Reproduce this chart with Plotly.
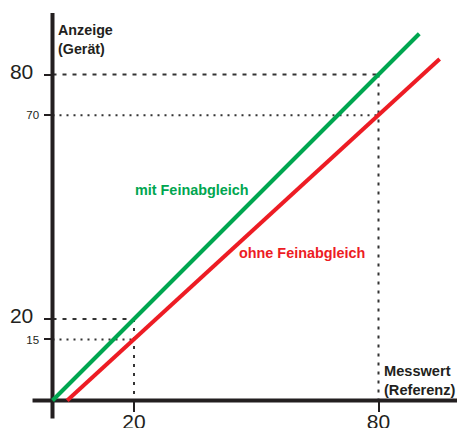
import plotly.graph_objects as go

# Kennlinien (Messwert -> Anzeige)
mit_x = [0, 90]
mit_y = [0, 90]
ohne_x = [3.6, 95]
ohne_y = [0, 83.8]

# Ablesepunkte
ref_x = [20, 80]
mit_ref_y = [20, 80]
ohne_ref_y = [15, 70]

y_ticks = [15, 20, 70, 80]
y_ticktext = ["15", "20", "70", "80"]
y_big = {20, 80}
x_ticks = [20, 80]
x_ticktext = ["20", "80"]

_GREEN = "#00a650"
_RED = "#ed1c24"
_INK = "#231f20"
_GUIDE = "#333333"
FONT = "Liberation Sans, Arial, Helvetica, sans-serif"

W, H = 457, 428
S = 4.075             # px per unit
OX, OY = 52.5, 400.5  # origin in px

fig = go.Figure()

# guide lines
for x, yw, yo in zip(ref_x, mit_ref_y, ohne_ref_y):
    fig.add_trace(go.Scatter(x=[0, x], y=[yw, yw], mode="lines",
                             line=dict(color=_GUIDE, width=2, dash="4px,6px"),
                             hoverinfo="skip", showlegend=False))
    fig.add_trace(go.Scatter(x=[0, x], y=[yo, yo], mode="lines",
                             line=dict(color=_GUIDE, width=2, dash="2px,5px"),
                             hoverinfo="skip", showlegend=False))
    fig.add_trace(go.Scatter(x=[x, x], y=[yw, 0], mode="lines",
                             line=dict(color=_GUIDE, width=2, dash="3px,6px"),
                             hoverinfo="skip", showlegend=False))

# axis lines
fig.add_trace(go.Scatter(x=[-4.9, 101], y=[0, 0], mode="lines",
                         line=dict(color=_INK, width=4),
                         hoverinfo="skip", showlegend=False))
fig.add_trace(go.Scatter(x=[0, 0], y=[-4.4, 95.1], mode="lines",
                         line=dict(color=_INK, width=4),
                         hoverinfo="skip", showlegend=False))

# series
fig.add_trace(go.Scatter(x=mit_x, y=mit_y, mode="lines",
                         line=dict(color=_GREEN, width=4), showlegend=False))
fig.add_trace(go.Scatter(x=ohne_x, y=ohne_y, mode="lines",
                         line=dict(color=_RED, width=4), showlegend=False))

def _lbl(v, t):
    if v in y_big:
        return f'<span style="font-size:21px">{t}&nbsp;</span>'
    return f'<span style="font-size:11.5px">{t}</span>'

fig.update_layout(
    width=W, height=H,
    margin=dict(l=0, r=0, t=0, b=0, autoexpand=False),
    plot_bgcolor="white", paper_bgcolor="white",
    font=dict(family=FONT, color=_INK, size=12),
    xaxis=dict(range=[-OX / S, (W - OX) / S], showgrid=False, zeroline=False,
               showline=False, anchor="free", position=(H - OY) / H,
               automargin=False,
               tickvals=x_ticks, ticktext=x_ticktext,
               tickfont=dict(size=21, color=_INK),
               ticks="outside", ticklen=10, tickwidth=2, tickcolor=_INK,
               ticklabelstandoff=-8),
    yaxis=dict(range=[-(H - OY) / S, OY / S], showgrid=False, zeroline=False,
               showline=False, anchor="free", position=OX / W,
               automargin=False,
               tickvals=y_ticks,
               ticktext=[_lbl(v, t) for v, t in zip(y_ticks, y_ticktext)],
               tickfont=dict(size=12, color=_INK),
               ticks="outside", ticklen=9, tickwidth=2, tickcolor=_INK,
               ticklabelstandoff=2),
)

def _px(x, y):
    return x / W, 1 - y / H

ax, ay = _px(56, 20)
fig.add_annotation(text="<b>Anzeige<br>(Gerät)</b>", x=ax, y=ay,
                   xref="paper", yref="paper", xanchor="left", yanchor="top",
                   align="left", showarrow=False,
                   font=dict(size=14.3, color=_INK, family=FONT))
ax, ay = _px(382, 361)
fig.add_annotation(text="<b>Messwert<br>(Referenz)</b>", x=ax, y=ay,
                   xref="paper", yref="paper", xanchor="left", yanchor="top",
                   align="left", showarrow=False,
                   font=dict(size=14.6, color=_INK, family=FONT))
ax, ay = _px(133, 190)
fig.add_annotation(text="<b>mit Feinabgleich</b>", x=ax, y=ay,
                   xref="paper", yref="paper", xanchor="left", yanchor="middle",
                   showarrow=False, font=dict(size=14.4, color=_GREEN, family=FONT))
ax, ay = _px(237, 253)
fig.add_annotation(text="<b>ohne Feinabgleich</b>", x=ax, y=ay,
                   xref="paper", yref="paper", xanchor="left", yanchor="middle",
                   showarrow=False, font=dict(size=14.4, color=_RED, family=FONT))

fig.write_html(
    "out.html",
    config={"displayModeBar": False},
    post_script="document.body.style.margin='0';document.body.style.overflow='hidden';",
)
